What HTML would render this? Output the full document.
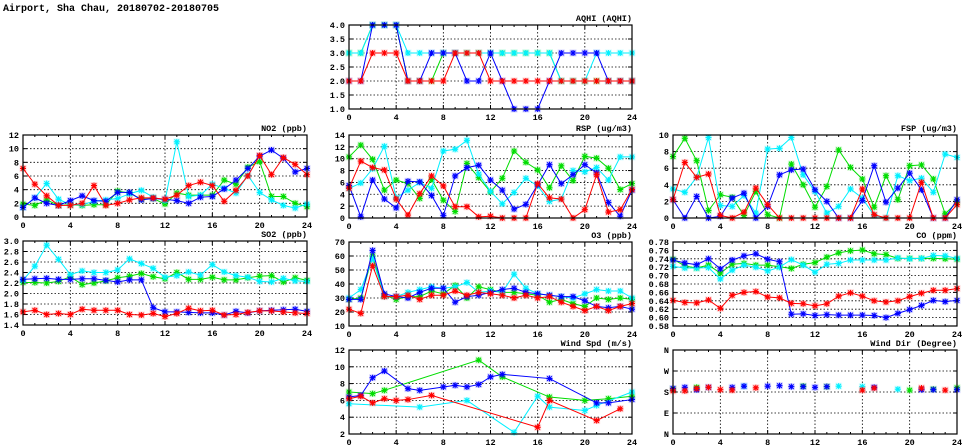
<!DOCTYPE html>
<html><head><meta charset="utf-8"><style>
html,body{margin:0;padding:0;background:#fff;}
svg{display:block;}
text{font-family:"Liberation Mono","DejaVu Sans Mono",monospace;font-weight:bold;fill:#000;}
</style></head><body>
<svg id="chart" width="975" height="447" viewBox="0 0 975 447" xmlns="http://www.w3.org/2000/svg">
<text x="3" y="11" font-size="10">Airport, Sha Chau, 20180702-20180705</text>
</svg>
<script>
const hours = [0,1,2,3,4,5,6,7,8,9,10,11,12,13,14,15,16,17,18,19,20,21,22,23,24];
const xTicks = [0,4,8,12,16,20,24];
const seriesNames = ["green","cyan","blue","red"];
const seriesColors = ["#00dd00","#00f0ff","#0000ff","#ff0000"];
const N = null;

const aqhiGreen = [3,3,4,4,4,2,2,2,3,3,3,3,3,3,3,3,3,3,2,2,2,2,2,2,2];
const aqhiCyan  = [3,3,4,4,4,3,3,3,3,3,3,3,3,3,3,3,3,3,2,2,2,3,3,3,3];
const aqhiBlue  = [2,2,4,4,4,2,2,3,3,3,2,2,3,2,1,1,1,2,3,3,3,3,2,2,2];
const aqhiRed   = [2,2,3,3,3,2,2,2,2,3,3,3,2,2,2,2,2,2,2,2,2,2,2,2,2];
const aqhiTicks = [1.0,1.5,2.0,2.5,3.0,3.5,4.0];

const no2Green = [1.9,1.7,2.5,1.7,1.8,1.7,1.8,1.8,3.8,3.5,2.6,2.7,1.9,3.5,3.2,3.2,3.2,5.4,4.8,7.3,8.1,3.0,3.0,2.0,1.5];
const no2Cyan  = [1.4,2.8,4.9,2.6,1.8,1.8,2.3,2.5,2.7,3.4,3.9,2.9,2.4,11.0,3.0,3.2,4.8,4.2,3.5,6.1,3.6,2.5,1.7,1.3,1.9];
const no2Blue  = [1.4,2.8,2.0,1.7,2.4,3.1,2.4,2.3,3.6,3.6,2.5,2.7,2.6,2.4,2.0,2.9,3.0,4.1,5.4,7.1,8.9,9.8,8.6,6.6,7.1];
const no2Red   = [7.1,4.8,3.1,1.7,1.7,2.0,4.6,1.7,2.0,2.5,2.8,2.8,2.6,3.2,4.6,5.1,4.6,2.3,3.9,6.0,9.0,6.2,8.7,7.7,6.2];
const no2Ticks = [0,2,4,6,8,10,12];

const rspGreen = [10.3,12.3,9.9,4.7,6.4,5.8,3.3,6.5,3.0,1.1,9.2,6.8,4.4,6.7,11.3,9.4,8.1,5.1,8.8,6.3,10.4,10.1,8.4,4.8,5.8];
const rspCyan  = [5.0,5.9,8.3,12.1,3.4,4.7,6.0,5.0,11.3,11.6,13.1,7.4,4.5,2.4,4.3,6.7,5.4,2.8,3.2,8.0,7.8,8.5,6.4,10.3,10.3];
const rspBlue  = [5.5,0.2,6.4,3.2,1.7,6.2,6.1,3.8,0.4,7.1,8.5,8.9,6.4,4.7,1.5,2.3,5.6,9.0,5.8,7.3,9.0,7.6,2.6,0.3,4.7];
const rspRed   = [5.0,9.6,8.5,8.1,3.2,0.5,4.1,7.1,5.4,1.9,1.9,0.2,0.3,0,0,0,5.8,3.4,3.2,0,1.4,7.3,1.0,1.4,4.8];
const rspTicks = [0,2,4,6,8,10,12,14];

const fspGreen = [7.4,9.6,6.9,0.9,2.8,2.5,0.3,3.2,0.4,0,6.5,4.0,1.3,3.8,8.2,6.1,4.7,1.3,5.1,2.2,6.3,6.4,4.7,0.5,1.9];
const fspCyan  = [3.5,3.1,4.9,9.7,1.5,1.4,2.7,0.6,8.3,8.4,9.7,5.2,3.2,0.6,1.4,3.5,2.4,0.3,0,5.1,4.5,4.8,3.1,7.7,7.3];
const fspBlue  = [2.2,0,2.6,0,0.2,2.4,3.0,0,1.4,5.2,5.8,5.9,3.4,2.0,0,0,2.1,6.3,1.9,3.6,5.4,3.4,0,0,2.2];
const fspRed   = [2.2,6.7,4.9,5.3,0.3,0,0.7,3.6,1.6,0,0,0,0,0,0,0,3.5,0.4,0,0,0,4.3,0,0,1.6];
const fspTicks = [0,2,4,6,8,10];

const so2Green = [2.21,2.21,2.20,2.23,2.32,2.17,2.20,2.24,2.30,2.33,2.38,2.32,2.28,2.40,2.27,2.27,2.31,2.26,2.26,2.30,2.33,2.34,2.22,2.30,2.25];
const so2Cyan  = [2.25,2.52,2.92,2.65,2.36,2.43,2.40,2.40,2.45,2.66,2.57,2.48,2.31,2.34,2.41,2.35,2.55,2.41,2.34,2.31,2.23,2.22,2.29,2.24,2.23];
const so2Blue  = [2.27,2.28,2.29,2.27,2.27,2.28,2.28,2.25,2.22,2.26,2.26,1.73,1.65,1.65,1.64,1.63,1.63,1.59,1.66,1.63,1.67,1.68,1.69,1.70,1.66];
const so2Red   = [1.65,1.68,1.60,1.62,1.60,1.70,1.68,1.68,1.68,1.60,1.59,1.62,1.56,1.62,1.72,1.67,1.68,1.59,1.60,1.64,1.67,1.67,1.65,1.63,1.62];
const so2Ticks = [1.4,1.6,1.8,2.0,2.2,2.4,2.6,2.8,3.0];

const o3Green = [29,30,60,32,29,31,31,35,33,39,30,38,36,34,34,33,32,27,29,26,24,30,29,30,29];
const o3Cyan  = [30,36,58,31,31,34,36,38,37,38,41,34,35,34,47,37,33,32,31,30,33,36,35,35,30];
const o3Blue  = [29,29,64,33,31,30,34,37,37,27,31,32,34,36,37,34,33,32,31,31,28,24,23,24,22];
const o3Red   = [22,19,53,31,31,32,29,32,32,35,32,34,33,32,30,32,30,31,27,24,21,24,21,24,26];
const o3Ticks = [10,20,30,40,50,60,70];

const coGreen = [0.739,0.723,0.718,0.725,0.706,0.727,0.729,0.725,0.725,0.721,0.717,0.727,0.731,0.744,0.754,0.759,0.761,0.752,0.750,0.741,0.741,0.741,0.741,0.740,0.739];
const coCyan  = [0.722,0.718,0.718,0.719,0.692,0.713,0.725,0.720,0.711,0.720,0.738,0.725,0.708,0.727,0.729,0.737,0.737,0.737,0.737,0.742,0.740,0.741,0.748,0.747,0.741];
const coBlue  = [0.737,0.730,0.726,0.740,0.716,0.737,0.747,0.752,0.739,0.733,0.608,0.609,0.605,0.607,0.606,0.606,0.606,0.605,0.600,0.610,0.619,0.629,0.641,0.638,0.641];
const coRed   = [0.641,0.636,0.635,0.642,0.622,0.653,0.660,0.662,0.649,0.647,0.634,0.633,0.628,0.633,0.651,0.659,0.651,0.640,0.637,0.640,0.650,0.658,0.665,0.665,0.669];
const coTicks = [0.58,0.60,0.62,0.64,0.66,0.68,0.70,0.72,0.74,0.76,0.78];

const wsGreen = [7.0,N,6.8,7.2,N,N,N,N,N,N,N,10.8,N,8.8,N,N,N,6.4,N,N,6.0,N,6.2,N,6.5];
const wsCyan  = [5.6,N,N,N,N,N,5.2,N,N,N,6.0,N,N,N,2.2,N,6.5,5.2,N,N,4.8,5.4,N,N,7.0];
const wsBlue  = [6.4,6.6,8.7,9.5,N,7.4,7.2,N,7.6,7.8,7.6,7.9,8.8,9.1,N,N,N,8.6,N,N,N,5.7,5.7,N,6.1];
const wsRed   = [6.2,6.5,5.7,6.2,6.0,6.1,N,6.6,N,N,N,N,N,N,N,N,2.8,6.0,N,N,N,3.6,N,5.0,N];
const wsTicks = [2,4,6,8,10,12];

const wdGreen = [192,N,200,N,N,N,N,N,N,N,N,205,N,203,N,N,N,N,N,N,188,N,192,N,198];
const wdCyan  = [N,N,N,N,N,N,205,N,N,N,N,N,N,N,205,N,203,N,N,192,N,N,N,N,N];
const wdBlue  = [195,200,190,200,N,200,205,N,205,207,203,203,200,203,N,N,N,200,N,N,N,190,190,N,190];
const wdRed   = [185,185,195,200,190,188,N,198,N,N,N,N,N,N,N,N,188,197,N,N,N,197,N,188,N];
const wdTicks = [0,90,180,270,360];
const wdTickLabels = ["N","E","S","W","N"];

const SVGNS = "http://www.w3.org/2000/svg";
const svg = document.getElementById("chart");
function mk(tag, attrs, parent){
  const e = document.createElementNS(SVGNS, tag);
  for (const k in attrs) e.setAttribute(k, attrs[k]);
  (parent||svg).appendChild(e);
  return e;
}

const panels = [
  {key:"aqhi", title:"AQHI (AQHI)", x0:349,x1:632,y0:25,y1:109, ticks:aqhiTicks, dec:1, data:[aqhiGreen,aqhiCyan,aqhiBlue,aqhiRed], lines:true},
  {key:"no2", title:"NO2 (ppb)", x0:23,x1:307,y0:135,y1:217, ticks:no2Ticks, dec:0, data:[no2Green,no2Cyan,no2Blue,no2Red], lines:true},
  {key:"rsp", title:"RSP (ug/m3)", x0:349,x1:632,y0:135,y1:218, ticks:rspTicks, dec:0, data:[rspGreen,rspCyan,rspBlue,rspRed], lines:true},
  {key:"fsp", title:"FSP (ug/m3)", x0:673,x1:957,y0:135,y1:218, ticks:fspTicks, dec:0, data:[fspGreen,fspCyan,fspBlue,fspRed], lines:true},
  {key:"so2", title:"SO2 (ppb)", x0:23,x1:307,y0:241,y1:325, ticks:so2Ticks, dec:1, data:[so2Green,so2Cyan,so2Blue,so2Red], lines:true},
  {key:"o3", title:"O3 (ppb)", x0:349,x1:632,y0:242,y1:326, ticks:o3Ticks, dec:0, data:[o3Green,o3Cyan,o3Blue,o3Red], lines:true},
  {key:"co", title:"CO (ppm)", x0:673,x1:957,y0:242,y1:326, ticks:coTicks, dec:2, data:[coGreen,coCyan,coBlue,coRed], lines:true},
  {key:"wind-spd", title:"Wind Spd (m/s)", x0:349,x1:632,y0:350,y1:434, ticks:wsTicks, dec:0, data:[wsGreen,wsCyan,wsBlue,wsRed], lines:true},
  {key:"wind-dir", title:"Wind Dir (Degree)", x0:673,x1:957,y0:350,y1:434, ticks:wdTicks, labels:wdTickLabels, dec:0, data:[wdGreen,wdCyan,wdBlue,wdRed], lines:false}
];

function marker(g, x, y, color){
  const h = mk("g", {}, g);
  
  
  mk("rect", {x:x-3.5,y:y-3.5,width:7,height:7,fill:color,opacity:0.15}, h);
  const d = `M${x-3},${y}H${x+3}M${x},${y-3}V${y+3}M${x-2.3},${y-2.3}L${x+2.3},${y+2.3}M${x-2.3},${y+2.3}L${x+2.3},${y-2.3}`;
  mk("path", {d:d, stroke:color, "stroke-width":1.1, fill:"none"}, h);
}

panels.forEach(p => {
  const g = mk("g", {});
  
  
  const ymin = p.ticks[0], ymax = p.ticks[p.ticks.length-1];
  const xs = h => p.x0 + (h/24)*(p.x1-p.x0);
  const ys = v => p.y1 - (v-ymin)/(ymax-ymin)*(p.y1-p.y0);
  const grid = mk("g", {}, g);
  
  
  xTicks.forEach(t => { if (t>0 && t<24) mk("line",{x1:xs(t),x2:xs(t),y1:p.y0,y2:p.y1,stroke:"#000","stroke-width":0.8,"stroke-dasharray":"1.5,2"},grid); });
  p.ticks.forEach(t => { if (t>ymin && t<ymax) mk("line",{x1:p.x0,x2:p.x1,y1:ys(t),y2:ys(t),stroke:"#000","stroke-width":0.8,"stroke-dasharray":"1.5,2"},grid); });
  hours.forEach(t => { if (t>0 && t<24){ const L = (t%4===0)?4:2;
    mk("line",{x1:xs(t),x2:xs(t),y1:p.y1,y2:p.y1-L,stroke:"#000","stroke-width":1},grid);
    mk("line",{x1:xs(t),x2:xs(t),y1:p.y0,y2:p.y0+L,stroke:"#000","stroke-width":1},grid);} });
  p.ticks.forEach(t => {
    mk("line",{x1:p.x0,x2:p.x0+4,y1:ys(t),y2:ys(t),stroke:"#000","stroke-width":1},grid);
    mk("line",{x1:p.x1,x2:p.x1-4,y1:ys(t),y2:ys(t),stroke:"#000","stroke-width":1},grid);
  });
  p.data.forEach((arr, si) => {
    const color = seriesColors[si];
    const sg = mk("g", {}, g);
    
    
    if (p.lines){
      let d = "";
      arr.forEach((v,i) => { if (v===null) return; d += (d===""?"M":"L") + xs(hours[i]) + "," + ys(v); });
      mk("path",{d:d,stroke:color,"stroke-width":1,fill:"none"},sg);
    }
    arr.forEach((v,i) => { if (v!==null) marker(sg, xs(hours[i]), ys(v), color); });
  });
  const fr = mk("rect",{x:p.x0,y:p.y0,width:p.x1-p.x0,height:p.y1-p.y0,fill:"none",stroke:"#000","stroke-width":1.2},g);
  
  
  p.ticks.forEach((t,i) => {
    const tx = mk("text",{x:p.x0-4,y:ys(t)+3,"font-size":8.5,"text-anchor":"end"},g);
    
    
    tx.textContent = p.labels ? p.labels[i] : t.toFixed(p.dec);
  });
  xTicks.forEach(t => {
    const tx = mk("text",{x:xs(t),y:p.y1+11,"font-size":8.5,"text-anchor":"middle"},g);
    
    
    tx.textContent = t;
  });
  const tt = mk("text",{x:p.x1,y:p.y0-4,"font-size":8.5,"text-anchor":"end"},g);
  
  
  tt.textContent = p.title;
});
</script>
</body></html>
